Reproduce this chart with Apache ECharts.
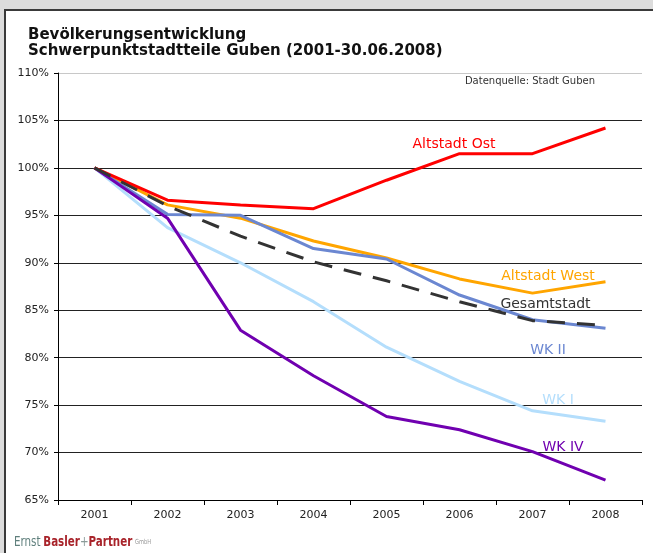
<!DOCTYPE html>
<html>
<head>
<meta charset="utf-8">
<script src="https://cdn.jsdelivr.net/npm/echarts@6/dist/echarts.min.js"></script>
<style>
html,body{margin:0;padding:0;background:#dcdcdc;}
#chart{width:653px;height:553px;}
</style>
</head>
<body>
<div id="chart"></div>
<script>
// ---- data ----
var years = ['2001','2002','2003','2004','2005','2006','2007','2008'];
var altstadtOst  = [100, 96.6, 96.1, 95.7, 98.7, 101.5, 101.5, 104.2];
var altstadtWest = [100, 96.1, 94.7, 92.3, 90.5, 88.3, 86.8, 88.0];
var gesamtstadt  = [100, 96.0, 92.8, 90.1, 88.1, 85.9, 83.9, 83.4];
var wk2          = [100, 95.1, 95.0, 91.5, 90.4, 86.6, 84.0, 83.1];
var wk1          = [100, 93.7, 90.0, 85.9, 81.1, 77.5, 74.4, 73.3];
var wk4          = [100, 94.7, 82.9, 78.1, 73.8, 72.4, 70.1, 67.1];
var seriesNames  = ['Altstadt Ost','Altstadt West','Gesamtstadt','WK II','WK I','WK IV'];
// label anchor: [category index, value]
var labelAnchors = {
  'Altstadt Ost':  [5, 102.5],
  'Altstadt West': [6, 88.6],
  'Gesamtstadt':   [6, 85.66],
  'WK II':         [6, 80.8],
  'WK I':          [6, 75.55],
  'WK IV':         [6, 70.5]
};
var yTicks = {min: 65, max: 110, interval: 5};

var chart = echarts.init(document.getElementById('chart'), null, {renderer:'canvas'});

function labelMark(name, color, dx) {
  var a = labelAnchors[name];
  return {
    silent: true,
    symbol: 'circle',
    symbolSize: 0.1,
    itemStyle: {color: 'rgba(0,0,0,0)'},
    label: {
      show: true, position: 'inside', formatter: name, color: color,
      fontFamily: 'DejaVu Sans', fontSize: 14, offset: [dx, 0]
    },
    data: [{coord: [a[0], a[1]]}]
  };
}

function lineSeries(name, data, color, dx, extra) {
  var s = {
    name: name, type: 'line', data: data, symbol: 'none', smooth: false,
    lineStyle: {color: color, width: 3},
    itemStyle: {color: color},
    markPoint: labelMark(name, color, dx),
    animation: false
  };
  if (extra) Object.assign(s.lineStyle, extra);
  return s;
}

var gridColors = ['#222','#222','#222','#222','#222','#222','#222','#222','#222','#c8c8c8'];
var logoFont = '"DejaVu Sans Condensed", "Liberation Sans Narrow", "Liberation Sans", sans-serif';

chart.setOption({
  backgroundColor: '#dcdcdc',
  animation: false,
  graphic: [
    {type:'rect', z: -10, shape:{x:5, y:10, width:700, height:600},
     style:{fill:'#ffffff', stroke:'#3a3a3a', lineWidth:2}},
    {type:'text', left: 28, top: 27, z: 10,
     style:{text:'Bevölkerungsentwicklung\nSchwerpunktstadtteile Guben (2001-30.06.2008)',
            font:'bold 15px "DejaVu Sans"', fill:'#111', lineHeight: 16}},
    {type:'text', right: 58, top: 76, z: 10,
     style:{text:'Datenquelle: Stadt Guben', font:'10px "DejaVu Sans"', fill:'#333'}},
    {type:'text', x: 14, y: 535, scaleX: 0.82, z: 10,
     style:{
       text:'{a|Ernst} {b|Basler}{c|+}{b|Partner} {d|GmbH}',
       rich:{
         a:{fontFamily:logoFont, fontSize:14, fill:'#5f7f7c'},
         b:{fontFamily:logoFont, fontWeight:'bold', fontSize:14, fill:'#a8232a'},
         c:{fontFamily:logoFont, fontSize:14, fill:'#8a9a98'},
         d:{fontFamily:logoFont, fontSize:7, fill:'#999'}
       }
     }}
  ],
  grid: {left: 58, right: 11, top: 73, bottom: 53, containLabel: false},
  xAxis: {
    type: 'category', data: years, boundaryGap: true,
    axisLine: {lineStyle: {color: '#000', width: 1}},
    axisTick: {show: true, length: 5, alignWithLabel: false, lineStyle: {color: '#000'}},
    axisLabel: {color: '#222', fontFamily: 'DejaVu Sans', fontSize: 11, margin: 10},
    splitLine: {show: false}
  },
  yAxis: {
    type: 'value', min: yTicks.min, max: yTicks.max, interval: yTicks.interval,
    axisLine: {show: true, lineStyle: {color: '#000', width: 1}},
    axisTick: {show: true, length: 4, inside: false, lineStyle: {color: '#000'}},
    axisLabel: {color: '#222', fontFamily: 'DejaVu Sans', fontSize: 11, margin: 9,
                formatter: '{value}%'},
    splitLine: {show: true, lineStyle: {color: gridColors, width: 1}}
  },
  series: [
    lineSeries('WK I', wk1, '#b4defc', 25.5),
    lineSeries('Altstadt West', altstadtWest, '#ffa500', 15.5),
    lineSeries('WK II', wk2, '#6b87d1', 15.5),
    lineSeries('WK IV', wk4, '#7000b0', 30.5),
    lineSeries('Altstadt Ost', altstadtOst, '#ff0000', -5.5),
    lineSeries('Gesamtstadt', gesamtstadt, '#333333', 13, {type: [18, 12], width: 3})
  ]
});
</script>
</body>
</html>
